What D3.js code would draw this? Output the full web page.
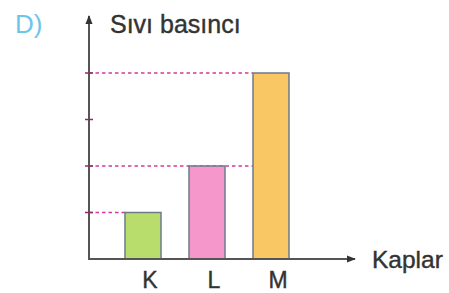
<!DOCTYPE html>
<html><head><meta charset="utf-8">
<script src="https://cdn.jsdelivr.net/npm/d3@7"></script>
<style>html,body{margin:0;padding:0;background:#fff;}svg{display:block;}</style>
</head><body>
<script>
const categories = ["K", "L", "M"];
const values = [1, 2, 4];
const yTicks = [1, 2, 3, 4];
const guideValues = [1, 2, 4];
const guideEnds = ["K", "M", "M"];
const colors = ["#b8dd6c", "#f597cb", "#f9c865"];
const yTitle = "Sıvı basıncı";
const xTitle = "Kaplar";
const panelLabel = "D)";

const W = 449, H = 293;
const svg = d3.select("body").append("svg").attr("width", W).attr("height", H);
const font = "Liberation Sans, Arial, Helvetica, sans-serif";

const x0 = 89, yBase = 259;
const x = d3.scaleBand().domain(categories).range([125, 289]).paddingInner(0.4375).paddingOuter(0);
const y = d3.scaleLinear().domain([0, 4]).range([yBase, 73]);

// guide lines (behind bars)
svg.append("g").selectAll("line").data(guideValues).join("line")
  .attr("x1", x0).attr("x2", (d, i) => x(guideEnds[i]))
  .attr("y1", d => y(d)).attr("y2", d => y(d))
  .attr("stroke", "#d6399a").attr("stroke-width", 1.6)
  .attr("stroke-dasharray", "3.5,3");

// bars
svg.append("g").selectAll("rect").data(values).join("rect")
  .attr("x", (d, i) => x(categories[i]))
  .attr("y", d => y(d))
  .attr("width", x.bandwidth())
  .attr("height", d => yBase - y(d))
  .attr("fill", (d, i) => colors[i])
  .attr("stroke", "#6d7b8c").attr("stroke-width", 1.5);

// arrow marker
const defs = svg.append("defs");
defs.append("marker").attr("id", "arr").attr("viewBox", "0 0 10 10")
  .attr("refX", 9).attr("refY", 5).attr("markerWidth", 9).attr("markerHeight", 9)
  .attr("markerUnits", "userSpaceOnUse").attr("orient", "auto")
  .append("path").attr("d", "M0,1 L10,5 L0,9 Z").attr("fill", "#333");

// axes
svg.append("line").attr("x1", x0).attr("y1", yBase).attr("x2", x0).attr("y2", 16)
  .attr("stroke", "#555").attr("stroke-width", 2).attr("marker-end", "url(#arr)");
svg.append("line").attr("x1", x0 - 1).attr("y1", yBase).attr("x2", 355).attr("y2", yBase)
  .attr("stroke", "#555").attr("stroke-width", 2).attr("marker-end", "url(#arr)");

// y ticks
svg.append("g").selectAll("line").data(yTicks).join("line")
  .attr("x1", x0 - 4).attr("x2", x0 + 4)
  .attr("y1", d => y(d)).attr("y2", d => y(d))
  .attr("stroke", "#8a2c66").attr("stroke-width", 1.5);

// category labels
svg.append("g").selectAll("text").data(categories).join("text")
  .attr("x", d => x(d) + x.bandwidth() / 2 + 7)
  .attr("y", 288)
  .attr("text-anchor", "middle")
  .attr("font-family", font).attr("font-size", 23).attr("fill", "#333")
  .attr("stroke", "#333").attr("stroke-width", 0.4)
  .text(d => d);

svg.append("text").attr("x", 110).attr("y", 33)
  .attr("font-family", font).attr("font-size", 25).attr("fill", "#333")
  .attr("stroke", "#333").attr("stroke-width", 0.4).text(yTitle);
svg.append("text").attr("x", 372).attr("y", 268)
  .attr("font-family", font).attr("font-size", 24.5).attr("fill", "#333")
  .attr("stroke", "#333").attr("stroke-width", 0.4).text(xTitle);
svg.append("text").attr("x", 15).attr("y", 33)
  .attr("font-family", font).attr("font-size", 26).attr("fill", "#6cc6ea").text(panelLabel);
</script>
</body></html>
